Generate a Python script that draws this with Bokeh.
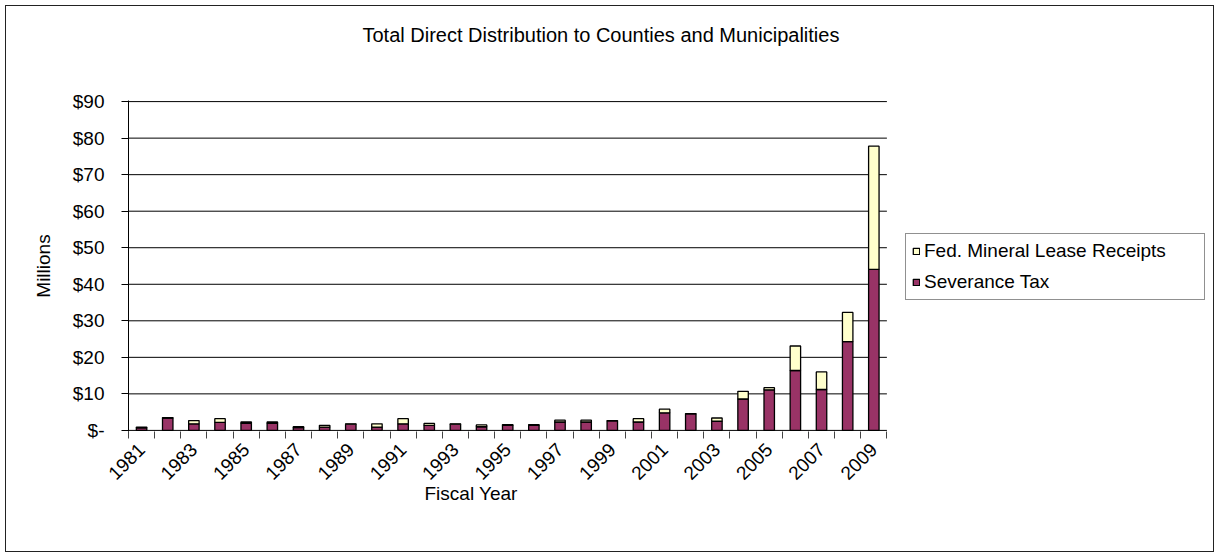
from math import pi
from bokeh.plotting import figure
from bokeh.models import (ColumnDataSource, FixedTicker, Legend, LegendItem, Title, Range1d)
from bokeh.embed import file_html
from bokeh.resources import INLINE

years = list(range(1981, 2010))
severance = [0.7, 3.4, 1.8, 2.2, 1.9, 1.9, 0.8, 0.9, 1.7, 0.9, 1.8, 1.4, 1.7, 1.0, 1.4,
             1.4, 2.3, 2.3, 2.6, 2.3, 4.8, 4.5, 2.5, 8.6, 11.1, 16.4, 11.2, 24.3, 44.1]
fed_mineral = [0.2, 0.1, 0.9, 1.0, 0.4, 0.4, 0.2, 0.5, 0.1, 0.9, 1.4, 0.5, 0.1, 0.5, 0.2,
               0.2, 0.5, 0.5, 0.1, 0.9, 1.0, 0.1, 0.9, 2.1, 0.6, 6.7, 4.8, 8.0, 33.7]
x_tick_years = years[::2]
x_tick_labels = [str(y) for y in x_tick_years]
y_ticks = list(range(0, 100, 10))
y_tick_labels = ["$-"] + ["$%d" % v for v in y_ticks[1:]]

series_names = ["Severance Tax", "Fed. Mineral Lease Receipts"]
PURPLE = "#993366"
YELLOW = "#FFFFCC"
FONT = "Liberation Sans"

source = ColumnDataSource(dict(year=years, sev=severance, fml=fed_mineral))

# layout (pixels): plotting area 757 px wide; the frame extends right to hold the legend
W, H = 1209, 547
BORDER_L, BORDER_R = 122, 7
AREA_PX = 757
frame_px = (W - 2) - BORDER_L - BORDER_R
x_start = years[0] - 0.5
x_plot_end = years[-1] + 0.5
x_end = x_start + (x_plot_end - x_start) * frame_px / AREA_PX

p = figure(width=W, height=H, output_backend="svg", toolbar_location=None,
           x_range=Range1d(x_start, x_end),
           y_range=Range1d(-0.3, 90.3),
           min_border_left=BORDER_L, min_border_right=BORDER_R,
           min_border_top=94, min_border_bottom=122,
           styles={"border": "1px solid #222222", "margin-left": "5px", "margin-top": "5px"})
p.outline_line_color = None
p.background_fill_color = "white"
p.border_fill_color = "white"
p.xgrid.grid_line_color = None
p.ygrid.grid_line_color = None

# gridlines and category axis line limited to the plotting area
grid_y = y_ticks[1:]
p.segment(x0=[x_start] * len(grid_y), x1=[x_plot_end] * len(grid_y), y0=grid_y, y1=grid_y,
          line_color="black", line_width=1)
p.segment(x0=[x_start], x1=[x_plot_end], y0=[0], y1=[0], line_color="black", line_width=1)

renderers = p.vbar_stack(["sev", "fml"], x="year", width=0.4, source=source,
                         fill_color=[PURPLE, YELLOW], line_color="black", line_width=1.3)

yax = p.yaxis[0]
yax.ticker = FixedTicker(ticks=y_ticks)
yax.major_label_overrides = {v: s for v, s in zip(y_ticks, y_tick_labels)}
yax.minor_tick_line_color = None
yax.major_tick_out = 7
yax.major_tick_in = 0
yax.major_tick_line_color = "black"
yax.axis_line_color = "black"
yax.major_label_standoff = 17
yax.major_label_text_font = FONT
yax.major_label_text_font_size = "19px"
yax.major_label_text_color = "black"
yax.axis_label = "Millions"
yax.axis_label_text_font = FONT
yax.axis_label_text_font_size = "19px"
yax.axis_label_text_font_style = "normal"
yax.axis_label_text_color = "black"
yax.axis_label_standoff = 16

xax = p.xaxis[0]
xax.ticker = FixedTicker(ticks=x_tick_years,
                         minor_ticks=[y - 0.5 for y in years] + [years[-1] + 0.5])
xax.major_label_overrides = {v: s for v, s in zip(x_tick_years, x_tick_labels)}
xax.major_tick_line_color = None
xax.minor_tick_line_color = "#444444"
xax.minor_tick_out = 7
xax.minor_tick_in = 0
xax.axis_line_color = None
xax.major_label_orientation = pi / 4
xax.major_label_standoff = 8
xax.major_label_text_font = FONT
xax.major_label_text_font_size = "19px"
xax.major_label_text_color = "black"

# spacer (nearest the frame) then chart title above it
p.add_layout(Title(text=" ", standoff=32, text_font_size="19px"), "above")
p.add_layout(Title(text="Total Direct Distribution to Counties and Municipalities",
                   align="left", offset=234, standoff=0,
                   text_font=FONT, text_font_size="20px", text_font_style="normal",
                   text_color="black"), "above")
p.add_layout(Title(text="Fiscal Year", align="left", offset=296, standoff=-16,
                   text_font=FONT, text_font_size="19px", text_font_style="normal",
                   text_color="black"), "below")

legend = Legend(items=[LegendItem(label=series_names[1], renderers=[renderers[1]]),
                       LegendItem(label=series_names[0], renderers=[renderers[0]])],
                location=(777, 131))
legend.label_text_font = FONT
legend.label_text_font_size = "19px"
legend.label_text_color = "black"
legend.glyph_width = 8
legend.glyph_height = 8
legend.label_standoff = 4
legend.label_width = 274
legend.spacing = 9
legend.padding = 6
legend.margin = 0
legend.border_line_color = "#222222"
legend.border_line_width = 1
legend.background_fill_alpha = 1
p.add_layout(legend)

open("out.html", "w").write(file_html(p, INLINE))
